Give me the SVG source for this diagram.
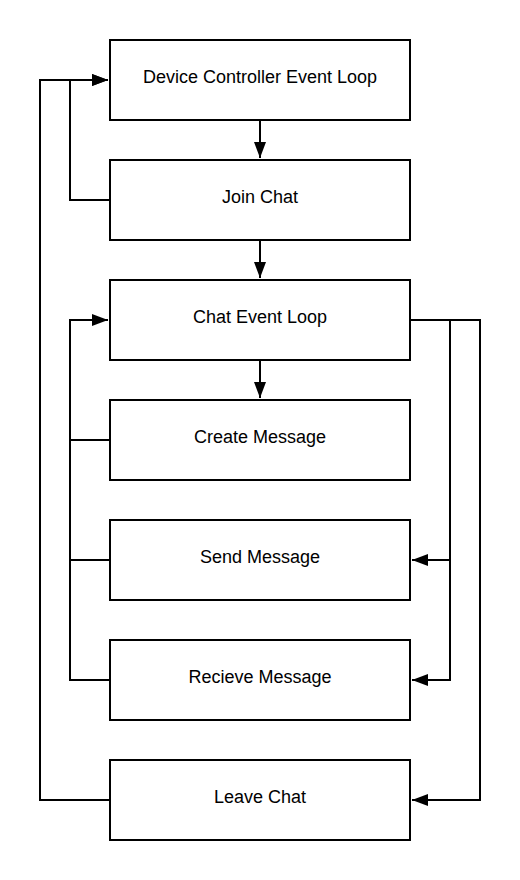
<svg xmlns="http://www.w3.org/2000/svg" width="520" height="880" viewBox="0 0 520 880">
<style>
.box{fill:#fff;stroke:#000;stroke-width:2}
.lbl{font-family:"Liberation Sans",Arial,sans-serif;font-size:18px;fill:#000;text-anchor:middle;dominant-baseline:central}
.c{fill:none;stroke:#000;stroke-width:2;stroke-linejoin:miter}
</style>
<defs>
<marker id="ah" viewBox="0 0 16 12" refX="16" refY="6" markerWidth="16" markerHeight="12" markerUnits="userSpaceOnUse" orient="auto">
<path d="M0,0 L16,6 L0,12 Z" fill="#000"/>
</marker>
</defs>
<rect width="520" height="880" fill="#fff"/>
<g id="connectors">
<path class="c" d="M260,120 V158" marker-end="url(#ah)"/>
<path class="c" d="M260,240 V278" marker-end="url(#ah)"/>
<path class="c" d="M260,360 V398" marker-end="url(#ah)"/>
<path class="c" d="M110,200 H70 V80 H108" marker-end="url(#ah)"/>
<path class="c" d="M110,800 H40 V80 H108" marker-end="url(#ah)"/>
<path class="c" d="M110,440 H70 V320 H108" marker-end="url(#ah)"/>
<path class="c" d="M110,560 H70"/>
<path class="c" d="M110,680 H70 V440"/>
<path class="c" d="M410,320 H450 V560 H412" marker-end="url(#ah)"/>
<path class="c" d="M450,560 V680 H412" marker-end="url(#ah)"/>
<path class="c" d="M450,320 H480 V800 H412" marker-end="url(#ah)"/>
</g>
<g id="device-controller"><rect class="box" x="110" y="40" width="300" height="80"/><text class="lbl" x="260" y="77">Device Controller Event Loop</text></g>
<g id="join-chat"><rect class="box" x="110" y="160" width="300" height="80"/><text class="lbl" x="260" y="197">Join Chat</text></g>
<g id="chat-event-loop"><rect class="box" x="110" y="280" width="300" height="80"/><text class="lbl" x="260" y="317">Chat Event Loop</text></g>
<g id="create-message"><rect class="box" x="110" y="400" width="300" height="80"/><text class="lbl" x="260" y="437">Create Message</text></g>
<g id="send-message"><rect class="box" x="110" y="520" width="300" height="80"/><text class="lbl" x="260" y="557">Send Message</text></g>
<g id="recieve-message"><rect class="box" x="110" y="640" width="300" height="80"/><text class="lbl" x="260" y="677">Recieve Message</text></g>
<g id="leave-chat"><rect class="box" x="110" y="760" width="300" height="80"/><text class="lbl" x="260" y="797">Leave Chat</text></g>
</svg>
